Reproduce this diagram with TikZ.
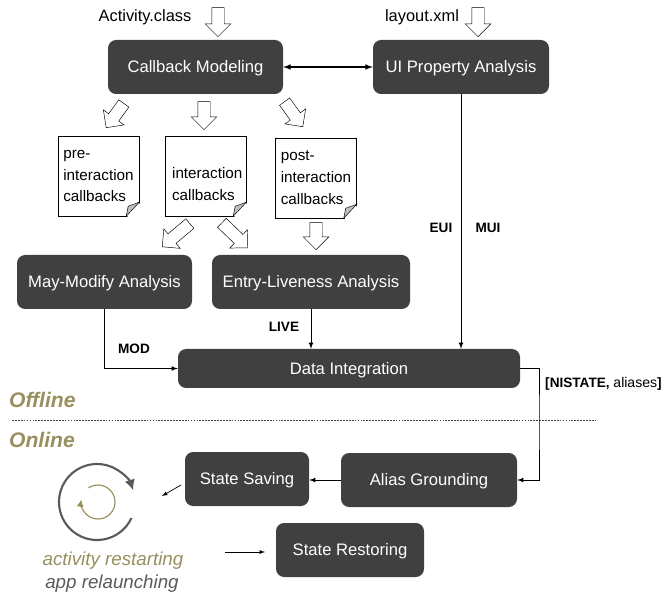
\documentclass[tikz,border=0pt]{standalone}
\usepackage{fontspec}
\setmainfont{Liberation Sans}
\usepackage{xcolor}
\usetikzlibrary{arrows,arrows.meta,shapes}
\usetikzlibrary{shapes.arrows}
\usetikzlibrary{calc}
\definecolor{boxgray}{HTML}{404040}
\definecolor{olive}{HTML}{988F5E}
\definecolor{cyclegray}{HTML}{5A5A5A}
\def\u{0.03}
\tikzstyle{box}=[rectangle,rounded corners=7pt,fill=boxgray,text=white,inner sep=0pt,text height=10pt,text depth=0.2pt,font=\fontsize{14.2}{16}\selectfont]
\tikzstyle{doc}=[rectangle,draw,fill=white,align=left,inner sep=0pt,minimum width=81*\u cm,minimum height=80*\u cm,font=\fontsize{13}{18.7}\selectfont]
\tikzstyle{blockarrow}=[single arrow,draw,fill=white,anchor=tip,inner xsep=0pt,inner ysep=6*\u cm,single arrow head extend=6.5*\u cm,single arrow head indent=0pt]
\tikzstyle{edge} = [draw,thick,-latex]
\tikzstyle{weight} = [font=\fontsize{11.6}{14}\selectfont\bfseries]
\tikzstyle{plain} = [font=\fontsize{14}{16}\selectfont]
\tikzstyle{phase} = [text=olive,font=\fontsize{18}{20}\selectfont\bfseries\itshape,anchor=west]

\begin{document}
\begin{tikzpicture}

 \useasboundingbox (0,0) rectangle (666*\u,-596*\u);

 %Phase line
 \coordinate (lineL) at (12*\u,-420*\u);
 \coordinate (lineR) at (596*\u,-420*\u);
 \draw[dash pattern=on 1.5pt off 1pt, line width=0.5pt, black!75] (lineL) -- (lineR);

 %Boxes
 \foreach \x/\y/\w/\h/\name/\label in {195.5/67/175/54/callback/Callback Modeling, 461/67/176/54/ui/UI Property Analysis,
        104.5/282/175/54/may/May-Modify Analysis, 311/282/198/54/entry/Entry-Liveness Analysis,
        349/368.5/342/39/data/Data Integration, 247/479/124/54/saving/State Saving,
        429/480/176/54/alias/Alias Grounding, 350/550/148/54/restoring/State Restoring}
        \node[box, minimum width=\w*\u cm, minimum height=\h*\u cm] (\name) at (\x*\u, -\y*\u) {\label};

 %Callback documents
 \foreach \x/\y/\name/\label in {98.5/176/pre/{pre-\\interaction\\callbacks},
        205.5/176/inter/{~\\[4pt]\hspace*{3pt}interaction\\\hspace*{3pt}callbacks},
        316/178/post/{post-\\interaction\\callbacks}}
        \node[doc] (\name) at (\x*\u, -\y*\u) {\label};

 \foreach \name in {pre,inter,post} {
   \fill[white] ($(\name.south east)+(-13*\u,-0.05)$) -- ($(\name.south east)+(0.05,-0.05)$) -- ($(\name.south east)+(0.05,14*\u)$) -- cycle;
   \draw[fill=black!25] ($(\name.south east)+(-13*\u,0)$) -- ($(\name.south east)+(0,14*\u)$) -- ($(\name.south east)+(-11*\u,10*\u)$) -- cycle;
 }

 %Block arrows
 \foreach \x/\y/\ang/\len/\name in {218/37/-90/29/inClass, 478/37/-90/29/inLayout,
        106/128/-126/30/toPre, 204/130/-90/28/toInter, 303/127/-54/31/toPost,
        162/247/-140/36/toMay, 248/248/-44/36/toEntry, 316/250/-90/27/toLive}
        \node[blockarrow, minimum height=\len*\u cm, rotate=\ang] (\name) at (\x*\u, -\y*\u) {};

 %Inputs
 \node[plain] (activity) at (145*\u,-17.5*\u) {Activity.class};
 \node[plain] (layout) at (422*\u,-17.5*\u) {layout.xml};

 %Connectors
 \path[draw,line width=1.2pt,latex-latex] (callback) -- (ui);
 \path[edge] (ui) -- (data.north -| ui);
 \path[edge] (entry) -- (entry |- data.north);
 \path[edge] (may) |- (data.west);
 \coordinate (bend) at (539*\u,-420*\u);
 \path[edge] (data.east) -| (bend) |- (alias.east);
 \path[edge] (alias) -- (saving.east |- alias);

 \coordinate (savingOut) at (181*\u,-485*\u);
 \coordinate (cycleIn) at (162*\u,-496*\u);
 \path[edge, semithick] (savingOut) -- (cycleIn);
 \coordinate (cycleOut) at (225*\u,-552*\u);
 \coordinate (restoreIn) at (265*\u,-552*\u);
 \path[edge, semithick] (cycleOut) -- (restoreIn);

 %Edge labels
 \foreach \x/\y/\name/\label in {134/349/mod/MOD, 284/327/live/LIVE, 441/228/eui/EUI, 488/228/mui/MUI}
        \node[weight] (\name) at (\x*\u, -\y*\u) {\label};
 \node[weight, anchor=west, inner sep=0pt] (nistate) at (545*\u,-383.5*\u) {[NISTATE, {\fontsize{12}{14}\selectfont\mdseries aliases}]};

 %Offline and online
 \node[phase] (offline) at (5*\u,-400*\u) {Offline};
 \node[phase] (online) at (5*\u,-440*\u) {Online};

 %Restart cycle
 \coordinate (cycleC) at (97*\u,-502*\u);
 \coordinate (smallC) at (98*\u,-502*\u);
 \draw[cyclegray, line width=1.8pt, -{Latex[length=9pt,width=9pt]}] ($(cycleC)+(-25:38*\u)$) arc (-25:-342:38*\u);
 \draw[olive, line width=1pt, -{Latex[length=6pt,width=6pt]}] ($(smallC)+(124:17*\u)$) arc (124:-188:17*\u);
 \node[text=olive, font=\fontsize{16}{18}\selectfont\itshape] (restarting) at (113*\u,-561*\u) {activity restarting};
 \node[text=cyclegray, font=\fontsize{16}{18}\selectfont\itshape] (relaunching) at (112*\u,-584*\u) {app relaunching};

\end{tikzpicture}
\end{document}
